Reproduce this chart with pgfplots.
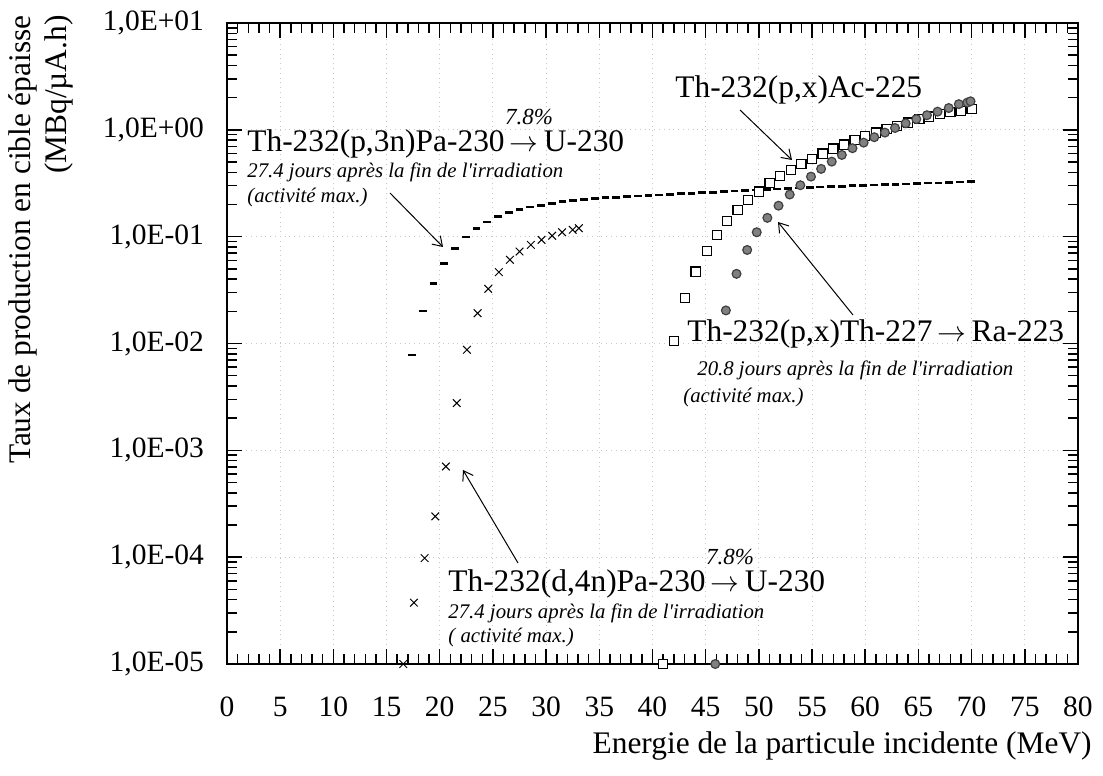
\documentclass[border=0pt]{standalone}
\usepackage{fontspec}
\setmainfont{Liberation Serif}[Ligatures=TeXOff]
\usepackage{pgfplots}
\pgfplotsset{compat=1.18}
\usetikzlibrary{arrows.meta}
\newcommand\bigf{\fontsize{15.7}{18.8}\selectfont}
\newcommand\smallf{\fontsize{10.4}{12.5}\selectfont\itshape}
\newcommand\pctf{\fontsize{11.5}{13.8}\selectfont\itshape}
\newcommand\arr{\,$\rightarrow$\,}
\definecolor{gridc}{RGB}{200,200,200}
\definecolor{circfill}{RGB}{128,128,128}
\definecolor{circdraw}{RGB}{64,64,64}

\begin{document}
\begin{tikzpicture}
\begin{axis}[
  scale only axis, width=425.5pt, height=320.5pt,
  xmin=0, xmax=80, ymode=log, ymin=1e-5, ymax=10,
  xtick={0,5,10,15,20,25,30,35,40,45,50,55,60,65,70,75,80},
  xticklabels={0,5,10,15,20,25,30,35,40,45,50,55,60,65,70,75,80},
  minor xtick={0,1,...,80},
  ytick={1e-5,1e-4,1e-3,1e-2,1e-1,1,10},
  yticklabels={{1,0E-05},{1,0E-04},{1,0E-03},{1,0E-02},{1,0E-01},{1,0E+00},{1,0E+01}},
  minor ytick={2e-5,3e-5,4e-5,5e-5,6e-5,7e-5,8e-5,9e-5,
               2e-4,3e-4,4e-4,5e-4,6e-4,7e-4,8e-4,9e-4,
               2e-3,3e-3,4e-3,5e-3,6e-3,7e-3,8e-3,9e-3,
               2e-2,3e-2,4e-2,5e-2,6e-2,7e-2,8e-2,9e-2,
               0.2,0.3,0.4,0.5,0.6,0.7,0.8,0.9,
               2,3,4,5,6,7,8,9},
  tick pos=both, tick align=inside,
  ticklabel style={font=\fontsize{14.75}{17}\selectfont},
  xticklabel style={yshift=-13pt},
  yticklabel style={xshift=-8pt},
  major tick length=7.5pt, minor tick length=5pt,
  every tick/.append style={black, line width=0.75pt},
  xmajorgrids, ymajorgrids,
  major grid style={dotted, gridc, line width=0.5pt},
  axis line style={line width=0.8pt},
  clip=false,
]
% Th-232(p,3n)Pa-230 -> U-230
\addplot[only marks, mark=-, mark size=1.95pt, mark options={line width=1.35pt, black}] coordinates {
(17.40,0.0078) (18.41,0.0202) (19.42,0.0365) (20.43,0.0565) (21.44,0.0770)
(22.45,0.0990) (23.46,0.120) (24.47,0.137) (25.48,0.154) (26.49,0.168)
(27.50,0.180) (28.51,0.189) (29.52,0.197) (30.53,0.205) (31.54,0.212)
(32.55,0.218) (33.56,0.223) (34.57,0.227) (35.58,0.231) (36.59,0.234)
(37.60,0.237) (38.61,0.240) (39.62,0.243) (40.63,0.246) (41.64,0.249)
(42.65,0.252) (43.66,0.255) (44.67,0.258) (45.68,0.261) (46.69,0.264)
(47.70,0.267) (48.71,0.270) (49.72,0.273) (50.73,0.276) (51.74,0.279)
(52.75,0.282) (53.76,0.285) (54.77,0.288) (55.78,0.291) (56.79,0.294)
(57.80,0.297) (58.81,0.300) (59.82,0.302) (60.83,0.305) (61.84,0.307)
(62.85,0.310) (63.86,0.312) (64.87,0.315) (65.88,0.317) (66.89,0.319)
(67.90,0.322) (68.91,0.324) (69.92,0.327)
};
% Th-232(d,4n)Pa-230 -> U-230
\addplot[only marks, mark=x, mark size=2.7pt, mark options={line width=0.5pt, black}] coordinates {
(16.57,1.0e-5) (17.57,3.75e-5) (18.58,9.8e-5) (19.58,2.41e-4) (20.58,7.06e-4)
(21.6,2.77e-3) (22.56,8.73e-3) (23.56,0.0192) (24.56,0.0325) (25.56,0.0466)
(26.6,0.0607) (27.5,0.0726) (28.57,0.0838) (29.57,0.0933) (30.57,0.102)
(31.5,0.110) (32.5,0.116) (33.08,0.120)
};
% Th-232(p,x)Ac-225
\addplot[only marks, mark=square*, mark size=2.3pt, mark options={line width=0.6pt, draw=black, fill=white}] coordinates {
(41.0,1.0e-5) (42.04,0.0106) (43.06,0.0266) (44.06,0.0472) (45.1,0.0736)
(46.05,0.104) (47.0,0.1406) (48.0,0.178) (49.0,0.219) (50.0,0.264)
(51.0,0.316) (52.0,0.370) (53.0,0.421) (54.0,0.476) (55.0,0.534)
(56.0,0.598) (57.0,0.667) (58.0,0.727) (59.0,0.80) (60.0,0.871)
(61.0,0.942) (62.0,1.02) (63.0,1.09) (64.0,1.17) (65.1,1.26)
(66.0,1.33) (67.0,1.40) (68.0,1.47) (69.0,1.51) (70.0,1.57)
};
% Th-232(p,x)Th-227 -> Ra-223
\addplot[only marks, mark=*, mark size=2.2pt, mark options={line width=0.6pt, draw=circdraw, fill=circfill}] coordinates {
(45.9,1.0e-5) (46.9,0.0204) (47.9,0.0449) (48.9,0.0751) (49.8,0.110)
(50.8,0.150) (51.85,0.195) (52.9,0.248) (53.9,0.303) (54.9,0.365)
(55.85,0.431) (56.85,0.504) (57.8,0.582) (58.8,0.673) (59.85,0.759)
(60.85,0.853) (61.85,0.942) (62.8,1.04) (63.8,1.15) (64.8,1.26)
(65.8,1.37) (66.8,1.48) (67.85,1.60) (68.8,1.74) (69.6,1.80) (69.9,1.85)
};
\end{axis}
% axis labels
\node[anchor=base east, inner sep=0pt, font=\bigf] at (432.5pt,-44.5pt) {Energie de la particule incidente (MeV)};
\node[rotate=90, anchor=base east, inner sep=0pt, font=\bigf] at (-98pt,324.5pt) {Taux de production en cible épaisse};
\node[rotate=90, anchor=base east, inner sep=0pt, font=\bigf] at (-80pt,324.5pt) {(MBq/µA.h)};
% annotation 1
\node[anchor=base west, inner sep=0pt, font=\bigf] at (10pt,256pt) {Th-232(p,3n)Pa-230\arr U-230};
\node[anchor=base, inner sep=0pt, font=\pctf] at (151pt,269.5pt) {7.8\%};
\node[anchor=base west, inner sep=0pt, font=\smallf] at (10pt,243pt) {27.4 jours après la fin de l'irradiation};
\node[anchor=base west, inner sep=0pt, font=\smallf] at (10pt,230.5pt) {(activité max.)};
\draw[-{Straight Barb[length=4.5pt,width=6pt]}, line width=0.5pt] (81.5pt,235.5pt) -- (108pt,208.5pt);
% annotation 2
\node[anchor=base west, inner sep=0pt, font=\bigf] at (224pt,283pt) {Th-232(p,x)Ac-225};
\draw[-{Straight Barb[length=4.5pt,width=6pt]}, line width=0.5pt] (256.5pt,277pt) -- (282.5pt,252pt);
% annotation 3
\node[anchor=base west, inner sep=0pt, font=\bigf] at (230pt,161pt) {Th-232(p,x)Th-227\arr Ra-223};
\node[anchor=base west, inner sep=0pt, font=\smallf] at (235pt,144pt) {20.8 jours après la fin de l'irradiation};
\node[anchor=base west, inner sep=0pt, font=\smallf] at (228pt,130.5pt) {(activité max.)};
\draw[-{Straight Barb[length=4.5pt,width=6pt]}, line width=0.5pt] (313pt,174.5pt) -- (275.5pt,221pt);
% annotation 4
\node[anchor=base west, inner sep=0pt, font=\bigf] at (110.5pt,36pt) {Th-232(d,4n)Pa-230\arr U-230};
\node[anchor=base, inner sep=0pt, font=\pctf] at (251.5pt,49.5pt) {7.8\%};
\node[anchor=base west, inner sep=0pt, font=\smallf] at (110.5pt,23pt) {27.4 jours après la fin de l'irradiation};
\node[anchor=base west, inner sep=0pt, font=\smallf] at (110.5pt,11pt) {( activité max.)};
\draw[-{Straight Barb[length=4.5pt,width=6pt]}, line width=0.5pt] (145.5pt,50.5pt) -- (118pt,97pt);
\pgfresetboundingbox
\path (-113.5pt,-56pt) rectangle (438pt,332pt);
\end{tikzpicture}
\end{document}
